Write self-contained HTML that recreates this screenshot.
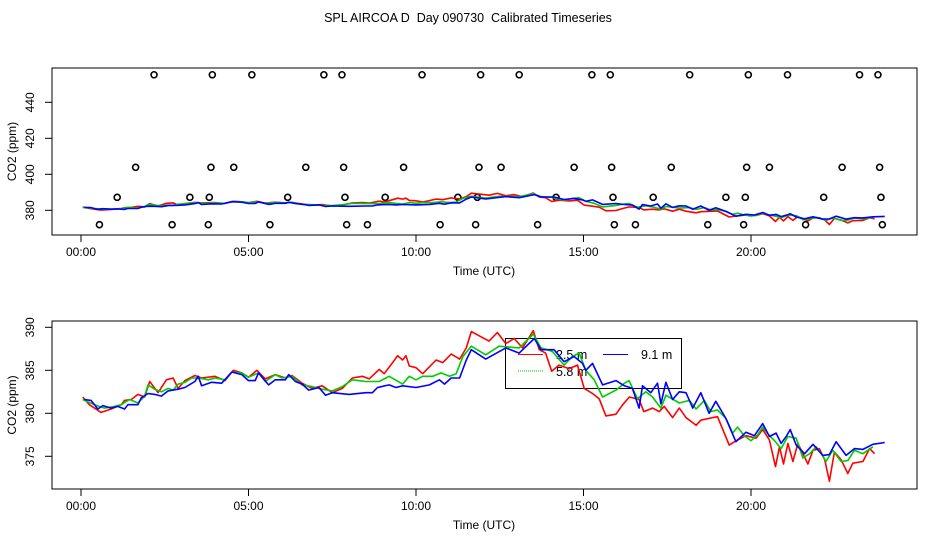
<!DOCTYPE html>
<html><head><meta charset="utf-8"><style>
body{margin:0;background:#fff}
svg{display:block;font-family:"Liberation Sans",sans-serif}
</style></head><body>
<svg id="chart" width="936" height="540" viewBox="0 0 936 540">
<rect width="936" height="540" fill="#fff"/>
<text x="468" y="22" font-size="12.5" text-anchor="middle" style="white-space:pre">SPL AIRCOA D  Day 090730  Calibrated Timeseries</text>
<g id="top"></g>
<g id="bot"></g>
</svg>
<script>
const xTickLabels=["00:00","05:00","10:00","15:00","20:00"];
const xTickHours=[0,5,10,15,20];
const topYTicks=[380,400,420,440];
const botYTicks=[375,380,385,390];
const redH=[0.05,0.25,0.6,0.9,1.2,1.3,1.5,1.7,1.9,2.05,2.3,2.55,2.75,2.9,3.1,3.4,3.6,4.0,4.3,4.55,4.8,5.0,5.25,5.5,5.8,6.1,6.3,6.6,6.9,7.2,7.5,7.8,8.1,8.4,8.6,8.9,9.05,9.3,9.45,9.6,9.7,9.8,10.0,10.2,10.6,10.8,11.05,11.3,11.5,11.65,12.18,12.43,12.68,12.93,13.18,13.5,13.68,13.87,14.05,14.27,14.57,14.82,15.02,15.27,15.47,15.67,15.97,16.17,16.37,16.66,16.8,17.06,17.26,17.41,17.66,17.86,18.06,18.36,18.5,18.85,19.0,19.35,19.55,19.85,20.15,20.35,20.55,20.73,20.85,20.97,21.1,21.25,21.4,21.55,21.7,21.85,22.04,22.2,22.34,22.49,22.69,22.89,23.04,23.34,23.54,23.69];
const redV=[381.9,381.0,380.1,380.5,381.0,381.5,381.6,382.2,381.9,383.7,382.4,383.9,384.1,382.9,383.8,384.4,384.1,384.3,383.8,385.0,384.7,384.2,385.0,384.0,384.5,384.1,384.4,383.5,382.9,383.2,382.4,382.9,384.1,384.3,384.0,385.1,384.6,385.9,386.7,386.2,386.7,385.5,385.3,384.6,386.2,385.9,386.9,386.3,387.6,389.5,388.4,389.4,388.1,388.7,387.6,389.6,387.4,387.0,384.9,385.6,385.2,385.6,382.9,382.3,381.7,379.7,379.9,381.0,381.9,381.6,380.2,380.6,380.2,380.8,379.5,380.6,379.5,378.6,379.2,379.5,379.6,376.3,376.8,377.4,377.1,378.1,376.9,373.8,376.1,374.1,376.5,374.4,376.5,375.3,374.1,375.7,375.9,374.6,372.1,375.5,374.6,373.0,374.2,374.4,375.9,375.3];
const greenH=[0.05,0.4,0.7,1.0,1.2,1.45,1.7,1.9,2.0,2.2,2.4,2.6,2.75,2.9,3.1,3.3,3.5,3.8,4.0,4.3,4.5,4.8,5.0,5.3,5.5,5.8,6.0,6.3,6.6,6.9,7.2,7.5,7.8,8.1,8.5,8.9,9.2,9.6,9.8,10.0,10.2,10.5,10.75,11.0,11.2,11.4,11.65,12.08,12.48,13.08,13.5,13.73,14.07,14.42,14.67,14.87,15.07,15.32,15.57,15.97,16.22,16.36,16.61,16.86,17.06,17.31,17.46,17.86,18.16,18.36,18.61,18.8,19.0,19.25,19.45,19.6,19.8,20.0,20.2,20.35,20.55,20.73,20.9,21.1,21.35,21.55,21.75,21.95,22.1,22.24,22.44,22.69,22.89,23.09,23.34,23.64];
const greenV=[381.6,381.0,380.6,380.8,381.0,381.6,381.2,382.0,383.3,382.8,382.5,382.9,382.7,383.4,383.6,384.1,384.1,383.9,384.1,383.9,384.8,384.7,384.2,384.7,383.7,384.5,384.1,384.3,383.3,383.1,382.8,382.6,383.1,383.9,383.7,383.7,384.3,383.4,384.3,383.9,384.3,384.3,384.7,384.3,384.6,386.6,387.8,386.8,387.8,387.6,389.2,387.6,387.2,385.6,386.6,387.0,385.0,383.9,381.9,382.7,383.5,383.8,381.7,382.5,381.9,380.6,382.1,381.2,381.5,380.5,381.5,380.2,380.4,379.4,377.7,378.4,377.4,376.8,377.5,378.4,377.4,376.7,375.9,377.3,377.1,374.8,375.3,376.1,375.3,374.4,375.7,374.4,374.5,375.7,375.3,376.1];
const blueH=[0.1,0.3,0.5,0.65,0.9,1.1,1.3,1.4,1.7,1.8,2.0,2.2,2.4,2.6,2.9,3.1,3.4,3.5,3.6,3.9,4.2,4.5,4.8,5.0,5.2,5.3,5.6,5.8,6.1,6.2,6.4,6.6,6.8,7.1,7.3,7.5,8.0,8.5,8.7,8.85,9.2,9.4,9.6,10.0,10.4,10.7,10.85,11.05,11.3,11.5,11.65,12.08,12.68,13.08,13.53,13.73,14.12,14.42,14.72,14.97,15.07,15.27,15.57,15.97,16.22,16.46,16.66,16.76,17.01,17.21,17.31,17.46,17.66,17.86,18.06,18.26,18.5,18.75,18.95,19.25,19.55,19.85,20.1,20.35,20.55,20.75,20.9,21.05,21.17,21.35,21.6,21.85,22.14,22.34,22.54,22.84,23.09,23.34,23.64,23.99];
const blueV=[381.6,381.5,380.5,380.9,380.6,380.8,380.5,381.0,381.0,381.8,382.3,382.2,382.0,382.6,382.8,383.0,383.7,384.3,383.2,383.6,383.5,384.8,384.5,383.8,383.8,384.7,383.3,383.9,383.9,384.5,383.7,383.4,382.7,383.0,382.1,382.4,382.2,382.4,382.4,383.0,383.3,383.0,383.2,383.0,383.3,383.9,383.4,384.1,384.1,386.2,387.4,386.3,387.6,387.0,388.7,387.4,387.4,386.0,386.6,385.8,385.0,385.8,383.3,383.8,383.2,382.9,380.6,383.2,382.4,383.5,381.1,383.6,381.6,382.5,382.4,380.6,382.4,380.0,381.4,379.4,376.7,377.8,377.4,378.8,377.3,377.7,376.5,377.3,378.1,376.3,375.3,376.4,375.1,375.2,376.7,375.1,375.9,375.8,376.4,376.6];
const ptH455=[2.18,3.92,5.10,7.25,7.79,10.18,11.93,13.08,15.25,15.80,18.17,19.92,21.09,23.24,23.79];
const ptH404=[1.63,3.88,4.56,6.71,7.84,9.63,11.88,12.54,14.72,15.84,17.62,19.87,20.55,22.72,23.84];
const ptH387=[1.08,3.25,3.83,6.17,7.88,9.08,11.25,11.83,14.18,15.88,17.08,19.25,19.83,22.17,23.88];
const ptH372=[0.55,2.72,3.80,5.64,7.93,8.55,10.72,11.78,13.63,15.92,16.55,18.71,19.78,21.63,23.92];
const ptLevels=[455.3,403.9,387.2,372];

const NS="http://www.w3.org/2000/svg";
function mk(p,tag,at){const e=document.createElementNS(NS,tag);for(const k in at)e.setAttribute(k,at[k]);p.appendChild(e);return e;}
const X=h=>81+33.5*h;
function panel(g,box,Y,yTicks){
  mk(g,'rect',{x:box[0],y:box[1],width:box[2]-box[0],height:box[3]-box[1],fill:'none',stroke:'#000','stroke-width':1});
  xTickHours.forEach((h,i)=>{
    const t=mk(g,'line',{x1:X(h),x2:X(h),y1:box[3],y2:box[3]+7,stroke:'#000'});
    
    
    const l=mk(g,'text',{x:X(h),y:box[3]+21,'font-size':12,'text-anchor':'middle'});l.textContent=xTickLabels[i];
    
    
  });
  yTicks.forEach(v=>{
    const t=mk(g,'line',{x1:box[0]-7,x2:box[0],y1:Y(v),y2:Y(v),stroke:'#000'});
    
    
    const l=mk(g,'text',{x:34,y:Y(v),'font-size':12,'text-anchor':'middle',transform:`rotate(-90 34 ${Y(v)})`});l.textContent=v;
    
    
  });
  const xl=mk(g,'text',{x:484,y:box[3]+40,'font-size':12,'text-anchor':'middle'});xl.textContent='Time (UTC)';
  
  
  const cy=(box[1]+box[3])/2;
  const yl=mk(g,'text',{x:16,y:cy,'font-size':12,'text-anchor':'middle',transform:`rotate(-90 16 ${cy})`});yl.textContent='CO2 (ppm)';
  
  
}
function series(g,H,V,Y,col,name){
  const d=H.map((h,i)=>(i?'L':'M')+X(h).toFixed(1)+','+Y(V[i]).toFixed(1)).join('');
  const p=mk(g,'path',{d:d,fill:'none',stroke:col,'stroke-width':1.6,'stroke-linejoin':'round'});
  
  
}
const topG=document.getElementById('top'),botG=document.getElementById('bot');
const Yt=v=>210.3-(v-380)*1.8;
const Yb=v=>327.3-(v-390)*8.6;
panel(topG,[52,68,917,235],Yt,topYTicks);
panel(botG,[52,321,917,489],Yb,botYTicks);
[ptH455,ptH404,ptH387,ptH372].forEach((arr,k)=>arr.forEach(h=>{
  const c=mk(topG,'circle',{cx:X(h),cy:Yt(ptLevels[k]),r:3,fill:'none',stroke:'#000','stroke-width':1.6});
  
  
}));
series(topG,redH,redV,Yt,'#f00','series-2-5m-top');
series(topG,greenH,greenV,Yt,'#0c0','series-5-8m-top');
series(topG,blueH,blueV,Yt,'#00f','series-9-1m-top');
const lg=mk(botG,'g',{});


mk(lg,'rect',{x:505.5,y:338.5,width:176,height:50,fill:'none',stroke:'#000'});
mk(lg,'line',{x1:518,x2:543,y1:354.5,y2:354.5,stroke:'#f00'});
let t=mk(lg,'text',{x:556,y:359,'font-size':12.5});t.textContent='2.5 m';


mk(lg,'line',{x1:603,x2:628,y1:354.5,y2:354.5,stroke:'#00f'});
t=mk(lg,'text',{x:641,y:359,'font-size':12.5});t.textContent='9.1 m';


mk(lg,'line',{x1:518,x2:543,y1:371,y2:371,stroke:'#0c0','stroke-dasharray':'1 1'});
t=mk(lg,'text',{x:556,y:376,'font-size':12.5});t.textContent='5.8 m';


series(botG,redH,redV,Yb,'#f00','series-2-5m');
series(botG,greenH,greenV,Yb,'#0c0','series-5-8m');
series(botG,blueH,blueV,Yb,'#00f','series-9-1m');
</script>
</body></html>
